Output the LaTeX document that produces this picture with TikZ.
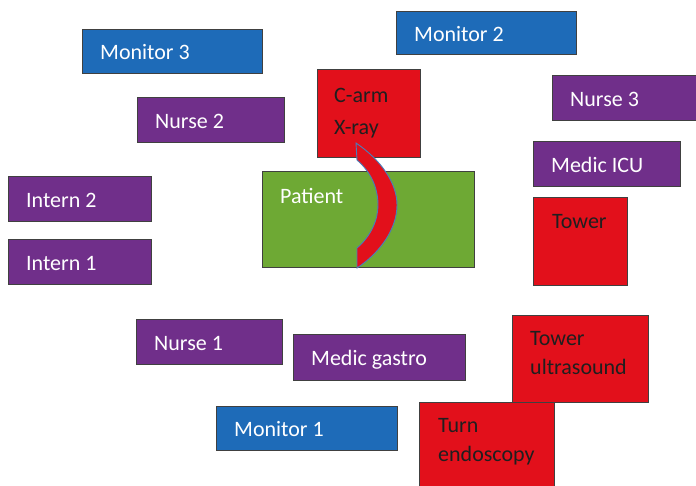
\documentclass[tikz,border=0pt]{standalone}
\usepackage{fontspec}
\setmainfont{Carlito}
\definecolor{mblue}{HTML}{1E6BB8}
\definecolor{mpurple}{HTML}{702F8A}
\definecolor{mred}{HTML}{E2101B}
\definecolor{mgreen}{HTML}{6EA934}
\definecolor{edgegray}{HTML}{404040}
\definecolor{arcline}{HTML}{4A7EBB}

\tikzset{
  block/.style={draw=edgegray, line width=0.8pt, inner sep=0pt, outer sep=0pt, anchor=north west},
  monitor/.style={block, fill=mblue},
  staff/.style={block, fill=mpurple},
  device/.style={block, fill=mred},
  bed/.style={block, fill=mgreen},
  lbl/.style={anchor=base west, inner sep=0pt, font=\fontsize{22}{29}\selectfont, align=left},
  lightlbl/.style={lbl, text=white},
  darklbl/.style={lbl, text=black!88},
}

\begin{document}
\begin{tikzpicture}[x=1pt, y=-1pt]
  \useasboundingbox (0,0) rectangle (696,485);
  \clip (0,0) rectangle (696,485);

  % monitors
  \node[monitor, minimum width=180pt, minimum height=44pt] (mon3) at (82,29) {};
  \node[monitor, minimum width=180pt, minimum height=43pt] (mon2) at (396,11) {};
  \node[monitor, minimum width=181pt, minimum height=44pt] (mon1) at (216,406) {};

  % staff
  \node[staff, minimum width=147pt, minimum height=45pt] (nurse2) at (137,97) {};
  \node[staff, minimum width=150pt, minimum height=45pt] (nurse3) at (552,75) {};
  \node[staff, minimum width=143pt, minimum height=45pt] (intern2) at (8,176) {};
  \node[staff, minimum width=143pt, minimum height=45pt] (intern1) at (8,239) {};
  \node[staff, minimum width=147pt, minimum height=45pt] (medicicu) at (533,141) {};
  \node[staff, minimum width=146pt, minimum height=45pt] (nurse1) at (136,319) {};
  \node[staff, minimum width=172pt, minimum height=46pt] (medicgastro) at (293,334) {};

  % patient table and equipment
  \node[bed, minimum width=212pt, minimum height=96pt] (patient) at (262,171) {};
  \node[device, minimum width=103pt, minimum height=88pt] (carm) at (317,69) {};
  \node[device, minimum width=94pt, minimum height=88pt] (tower) at (533,197) {};
  \node[device, minimum width=136pt, minimum height=87pt] (towerus) at (512,315) {};
  \node[device, minimum width=135pt, minimum height=95pt] (endo) at (419,402) {};

  % the C-shaped arc of the X-ray unit over the patient
  \draw[fill=mred, draw=arcline, line width=0.9pt]
    (356,143) .. controls (381,160) and (397,183) .. (397,205)
              .. controls (397,228) and (381,252) .. (357,268)
    -- (357,248)
              .. controls (371,236) and (378,220) .. (378,205)
              .. controls (378,188) and (371,172) .. (357,160)
    -- cycle;

  % labels (base anchor of a two-line label is the baseline of its last line)
  \node[lightlbl] (tmon3) at ([shift={(18,8.5)}]mon3.west) {Monitor 3};
  \node[lightlbl] (tmon2) at ([shift={(18,8.5)}]mon2.west) {Monitor 2};
  \node[lightlbl] (tmon1) at ([shift={(18,8.5)}]mon1.west) {Monitor 1};
  \node[lightlbl] (tnurse2) at ([shift={(18,8.5)}]nurse2.west) {Nurse 2};
  \node[lightlbl] (tnurse3) at ([shift={(18,8.5)}]nurse3.west) {Nurse 3};
  \node[lightlbl] (tintern2) at ([shift={(18,8.5)}]intern2.west) {Intern 2};
  \node[lightlbl] (tintern1) at ([shift={(18,8.5)}]intern1.west) {Intern 1};
  \node[lightlbl] (tmedicicu) at ([shift={(18,8.5)}]medicicu.west) {Medic ICU};
  \node[lightlbl] (tnurse1) at ([shift={(18,8.5)}]nurse1.west) {Nurse 1};
  \node[lightlbl] (tmedicgastro) at ([shift={(18,8.5)}]medicgastro.west) {Medic gastro};
  \node[lightlbl] (tpatient) at ([shift={(18,32)}]patient.north west) {Patient};
  \node[darklbl] (tcarm) at ([shift={(17,65)}]carm.north west) {C-arm\\[3pt]X-ray};
  \node[darklbl] (ttower) at ([shift={(19,31)}]tower.north west) {Tower};
  \node[darklbl] (ttowerus) at ([shift={(18,59)}]towerus.north west) {Tower\\ultrasound};
  \node[darklbl] (tendo) at ([shift={(19,59)}]endo.north west) {Turn\\endoscopy};
\end{tikzpicture}
\end{document}
